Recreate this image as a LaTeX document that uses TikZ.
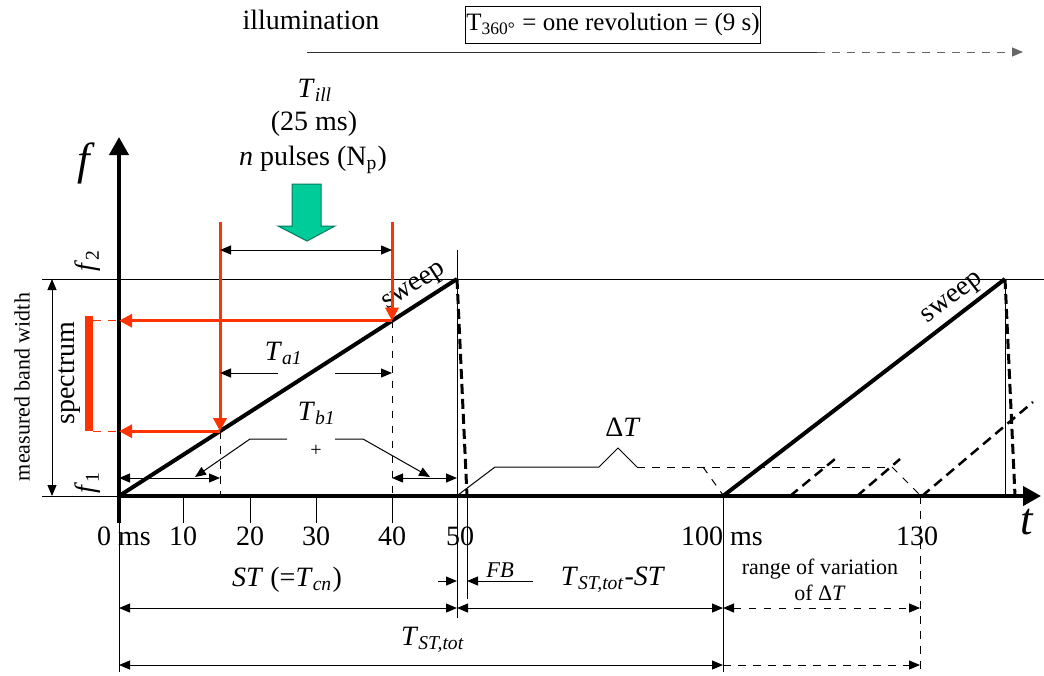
\documentclass[tikz,border=0pt]{standalone}
\usepackage{fontspec}
\setmainfont{Liberation Serif}
\usepackage{xcolor}
\usepackage{tikz}
\usetikzlibrary{arrows.meta, calc}

\definecolor{illured}{RGB}{255,51,0}
\definecolor{pulsegreen}{RGB}{0,204,153}

\begin{document}
\begin{tikzpicture}[x=0.4pt, y=-0.4pt, >={Triangle[length=4.4pt, width=3.6pt]},
    every node/.style={font=\fontsize{11.2}{13}\selectfont, inner sep=1pt},
    smalltxt/.style={font=\fontsize{8.8}{10.5}\selectfont},
    biglbl/.style={font=\fontsize{18}{20}\selectfont\itshape},
    thinln/.style={line width=0.4pt},
    axisln/.style={line width=1.6pt, -{Triangle[length=7.2pt, width=7.6pt]}},
    sweepln/.style={line width=1.6pt},
    flyback/.style={line width=1.2pt, dash pattern=on 4pt off 2pt},
    echoln/.style={line width=1pt, dash pattern=on 4pt off 2.4pt},
    redln/.style={illured, line width=1.2pt, -{Triangle[length=5.2pt, width=5.2pt]}}]
    \useasboundingbox (0,0) rectangle (1044,675);

    % 1. Ánh sáng: nhãn, khung T_360 và mũi tên trên cùng
    \node (illu) at (311,20) {illumination};
    \node[draw, thinln, inner sep=0.5pt, minimum width=116.8pt, minimum height=14.8pt] (rev) at (613,24.5)
        {\fontsize{10}{12}\selectfont T\textsubscript{360°} = one revolution = (9 s)};
    \coordinate (ilA) at (307,52);
    \coordinate (ilB) at (817,52);
    \coordinate (ilC) at (1023,52);
    \draw[thinln, black!80] (ilA) -- (ilB);
    \draw[thinln, black!60, dashed, ->] (ilB) -- (ilC);

    % 2. Xung chiếu sáng T_ill và mũi tên xanh
    \node (till) at (315,90) {\textit{T}\textsubscript{\textit{ill}}};
    \node (tdur) at (314,124) {(25 ms)};
    \node (npul) at (313,160) {\textit{n} pulses (N\textsubscript{p})};
    \draw[pulsegreen!60!black, thinln, fill=pulsegreen]
        (292,184) -- (321,184) -- (321,226) -- (335,226) -- (307,241) -- (278,226) -- (292,226) -- cycle;

    % 3. Hệ trục f, t và các mức f1, f2
    \coordinate (O) at (119,496);
    \draw[axisln] (119,523) -- (119,137);
    \draw[thinln] (119,523) -- (119,672);
    \draw[axisln] (O) -- (1041,496);
    \node[biglbl] (flab) at (84,163) {f};
    \node[biglbl] (tlab) at (1027,522) {t};
    \draw[thinln] (42,279) -- (1044,279);
    \draw[thinln] (42,496) -- (O);
    \node[rotate=90] (f2) at (88,260) {\textit{f}\textsubscript{2}};
    \node[rotate=90] (f1) at (88,482) {\textit{f}\textsubscript{1}};

    % 4. Dải đo và phổ
    \draw[thinln, <->] (52,279) -- (52,496);
    \node[smalltxt, rotate=90] (mbw) at (22,387) {measured band width};
    \node[rotate=90] (spec) at (70,373) {spectrum};

    % 5. Quét thứ nhất (0 -> 50 ms) và quét ngược
    \coordinate (S1) at (457,279);
    \coordinate (A1) at (220,431.2);
    \coordinate (A2) at (392,320.7);
    \draw[sweepln] (O) -- (S1) node[pos=0.9, sloped, above=0.5pt] {sweep};
    \draw[flyback] (S1) -- (467,496);
    \draw[thinln] (457,250) -- (457,618);
    \draw[thinln] (467,496) -- (467,599);

    % 6. Đường đỏ: thời điểm bắt đầu / kết thúc chiếu sáng
    \draw[redln] (220,222) -- (A1);
    \draw[redln] (392,222) -- (A2);
    \draw[redln] (A1) -- (119,431.2);
    \draw[redln] (A2) -- (119,320.7);
    \draw[illured, line width=3.2pt] (89,316) -- (89,431.2);
    \draw[illured, thinln, dashed] (93,320.7) -- (119,320.7);
    \draw[illured, thinln, dashed] (93,431.2) -- (119,431.2);
    \draw[thinln, <->] (220,250) -- (392,250);

    % 7. Khoảng T_a1, T_b1
    \draw[thinln, dashed] (A1) -- (220,496);
    \draw[thinln, dashed] (A2) -- (392,496);
    \node (ta1) at (284,353) {\textit{T}\textsubscript{\textit{a1}}};
    \draw[thinln, ->] (278,373) -- (220,373);
    \draw[thinln, ->] (335,373) -- (392,373);
    \node (tb1) at (317,413) {\textit{T}\textsubscript{\textit{b1}}};
    \draw[thinln, ->] (287,439) -- (250,439) -- (195,477);
    \draw[thinln, ->] (335,439) -- (363,439) -- (430,477);
    \node[font=\fontsize{8}{9}\selectfont] (plus) at (316,451) {+};
    \draw[thinln, <->] (119,478) -- (220,478);
    \draw[thinln, <->] (392,478) -- (457,478);

    % 8. Khoảng nghỉ Delta T
    \draw[thinln] (458,495) -- (495,467) -- (599,467) -- (618,448) -- (637,467);
    \draw[thinln, dashed] (637,467) -- (892,467);
    \draw[thinln, dashed] (703,467) -- (723,495);
    \draw[thinln, dashed] (892,467) -- (920,495);
    \node (dT) at (623,427) {Δ\textit{T}};

    % 9. Quét thứ hai (100 ms) và các vị trí có thể của nó
    \coordinate (B0) at (723,496);
    \coordinate (S2) at (1005,279);
    \draw[sweepln] (B0) -- (S2) node[pos=0.85, sloped, above=0.5pt] {sweep};
    \draw[thinln] (S2) -- (1005,496);
    \draw[flyback] (S2) -- (1015,496);
    \draw[echoln] (790,496) -- (835,459);
    \draw[echoln] (857,496) -- (900,459);
    \draw[echoln] (922,496) -- (1033,402);

    % 10. Vạch chia và nhãn trục t
    \draw[thinln] (183,496) -- (183,523);
    \draw[thinln] (250,496) -- (250,523);
    \draw[thinln] (316,496) -- (316,523);
    \draw[thinln] (392,496) -- (392,523);
    \draw[thinln] (B0) -- (723,672);
    \draw[thinln, dashed] (920,496) -- (920,672);
    \node (t0) at (124,536) {0 ms};
    \node (t10) at (183,536) {10};
    \node (t20) at (250,536) {20};
    \node (t30) at (316,536) {30};
    \node (t40) at (392,536) {40};
    \node (t50) at (460,536) {50};
    \node (t100) at (722,536) {100 ms};
    \node (t130) at (917,536) {130};

    % 11. Các khoảng thời gian phía dưới
    \node (st) at (287,580) {\textit{ST} (=\textit{T}\textsubscript{\textit{cn}})};
    \draw[thinln, <->] (119,608) -- (457,608);
    \draw[thinln, ->] (438,581) -- (457,581);
    \draw[thinln, ->] (533,581) -- (467,581);
    \node[font=\fontsize{9}{10}\selectfont\itshape] (fb) at (500,570) {FB};
    \node (rest) at (613,580) {\textit{T}\textsubscript{\textit{ST,tot}}-\textit{ST}};
    \draw[thinln, <->] (457,608) -- (723,608);
    \node[smalltxt, align=center] (range) at (820,580) {range of variation\\of Δ\textit{T}};
    \draw[thinln, dashed, <->] (723,608) -- (920,608);
    \node (tot) at (433,640) {\textit{T}\textsubscript{\textit{ST,tot}}};
    \draw[thinln, <->] (119,665) -- (723,665);
    \draw[thinln, dashed, ->] (723,665) -- (920,665);

\end{tikzpicture}
\end{document}
